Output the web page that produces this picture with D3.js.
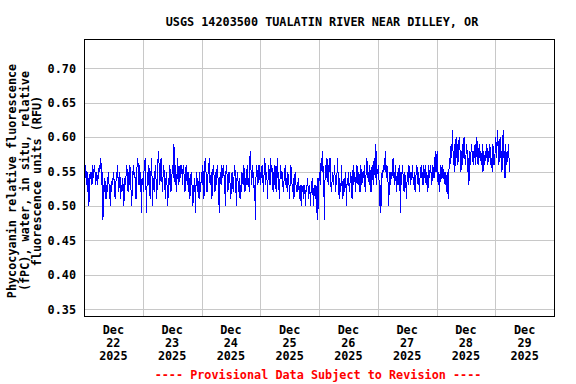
<!DOCTYPE html>
<html>
<head>
<meta charset="utf-8">
<script src="https://cdn.jsdelivr.net/npm/d3@7/dist/d3.min.js"></script>
<style>
  html, body { margin: 0; padding: 0; background: #ffffff; }
  svg { display: block; }
  text { font-family: "DejaVu Sans Mono", "Liberation Mono", monospace; font-weight: bold; font-size: 11.8px; }
</style>
</head>
<body>
<div id="chart"></div>
<script>
// ---- Data: phycocyanin RFU, 15-minute readings, stored in hundredths ----
const title = "USGS 14203500 TUALATIN RIVER NEAR DILLEY, OR";
const yAxisTitle = ["Phycocyanin relative fluorescence", "(fPC), water, in situ, relative", "fluorescence units (RFU)"];
const footer = "---- Provisional Data Subject to Revision ----";
const dayStarts = ["2025-12-22", "2025-12-23", "2025-12-24", "2025-12-25", "2025-12-26", "2025-12-27", "2025-12-28", "2025-12-29"];
const dayLabels = [["Dec", "22", "2025"], ["Dec", "23", "2025"], ["Dec", "24", "2025"], ["Dec", "25", "2025"],
                   ["Dec", "26", "2025"], ["Dec", "27", "2025"], ["Dec", "28", "2025"], ["Dec", "29", "2025"]];
const yTicks = [0.35, 0.40, 0.45, 0.50, 0.55, 0.60, 0.65, 0.70];

const dec22 = [51,55,54,56,53,55,52,54,50,53,55,54, 55,53,56,54,55,56,55,53,54,55,53,54,
               55,56,55,57,56,53,55,48,53,52,54,53, 51,53,52,54,55,53,52,50,53,52,54,53,
               55,54,52,51,53,55,54,56,53,52,55,54, 51,53,52,54,53,50,52,54,53,55,56,54,
               52,55,53,56,54,52,50,53,55,56,54,55, 53,51,55,56,57,54,53,56,52,55,49,54];
const dec23 = [54,52,55,56,57,54,49,53,55,53,56,54, 51,53,57,55,50,53,54,52,55,56,53,51,
               55,57,58,55,53,56,57,55,52,54,56,55, 53,51,54,55,52,50,54,53,56,55,52,53,
               55,56,54,59,55,53,56,52,54,57,55,53, 55,56,54,56,55,53,56,55,54,52,55,56,
               54,53,55,52,54,51,53,55,54,52,50,53, 52,54,49,53,55,52,54,53,51,55,52,53];
const dec24 = [55,53,56,54,51,55,57,56,53,52,54,55, 56,57,53,54,55,51,53,56,55,54,52,55,
               53,55,56,54,52,49,54,55,53,56,55,54, 56,54,53,50,55,56,54,52,53,55,54,53,
               51,54,55,53,52,54,56,55,53,50,54,55, 53,52,54,51,53,52,55,54,53,56,55,52,
               54,53,55,56,53,54,52,57,58,55,53,56, 54,55,52,53,48,54,56,55,53,54,56,55];
const dec25 = [53,55,54,56,55,52,54,57,56,53,55,54, 51,55,56,54,53,57,55,56,54,52,55,53,
               56,54,52,55,57,54,55,51,53,56,55,54, 55,53,52,54,55,56,53,54,52,55,54,53,
               51,54,56,55,53,52,54,51,53,55,54,52, 53,52,54,53,51,53,52,50,53,52,53,51,
               53,52,50,53,52,54,53,51,52,53,50,52, 53,54,52,50,53,52,51,53,49,54,48,52];
const dec26 = [54,55,53,56,57,55,58,54,52,48,55,56, 54,57,55,53,56,55,57,54,52,53,55,54,
               53,56,55,52,54,53,57,55,53,51,54,52, 53,56,52,51,53,54,52,55,53,50,54,53,
               55,53,52,54,55,53,51,54,56,53,55,54, 52,55,56,54,53,55,54,52,56,55,53,54,
               55,54,56,53,52,55,57,56,54,55,53,56, 54,52,55,56,54,53,57,55,54,59,53,55];
const dec27 = [55,56,54,50,53,49,52,55,54,56,55,57, 55,58,54,56,55,53,50,54,55,53,55,54,
               55,57,54,55,53,56,54,52,55,53,54,56, 54,49,55,53,56,55,54,52,55,54,53,51,
               54,55,53,56,54,55,53,55,54,56,53,54, 55,52,54,55,56,54,53,55,52,54,55,56,
               54,55,53,56,55,54,56,53,55,54,52,56, 55,54,56,55,53,54,56,55,54,56,58,55];
const dec28 = [55,58,54,53,55,52,54,56,55,54,56,55, 54,55,53,55,54,52,55,51,54,57,56,58,
               59,57,61,58,56,59,55,58,60,57,59,56, 58,60,59,57,55,58,56,59,57,60,58,56,
               57,59,58,55,57,53,58,56,57,59,58,57, 56,58,57,59,56,58,60,57,56,58,59,57,
               58,56,57,59,55,58,57,56,58,57,59,58, 56,58,57,59,58,56,57,55,59,58,56,57];
const dec29 = [58,60,57,59,61,58,56,59,60,57,58,55, 59,61,57,58,54,59,57,56,58,57,59,55,56];

const dayValues = [dec22, dec23, dec24, dec25, dec26, dec27, dec28, dec29];

// ---- Build records ----
const parseDay = d3.utcParse("%Y-%m-%d");
const data = [];
dayValues.forEach((vals, i) => {
  const start = parseDay(dayStarts[i]);
  vals.forEach((v, j) => {
    data.push({ t: d3.utcMinute.offset(start, j * 15), v: v / 100 });
  });
});

// ---- Layout ----
const W = 576, H = 384;
const plot = { left: 84, right: 554, top: 39, bottom: 316 };

const x = d3.scaleUtc()
  .domain([parseDay("2025-12-22"), parseDay("2025-12-30")])
  .range([plot.left, plot.right]);
const y = d3.scaleLinear()
  .domain([0.3403, 0.7425])
  .range([plot.bottom, plot.top]);

const svg = d3.select("#chart").append("svg")
  .attr("width", W).attr("height", H);

svg.append("rect").attr("width", W).attr("height", H).attr("fill", "#fff");

// Title
svg.append("text")
  .attr("x", 322).attr("y", 26)
  .attr("text-anchor", "middle")
  .attr("fill", "#000")
  .text(title);

// Gridlines
const gridColor = "#c8c8c8";
const gx = svg.append("g");
const dayBounds = d3.utcDay.range(parseDay("2025-12-23"), parseDay("2025-12-30"));
gx.selectAll("line.vg").data(dayBounds).join("line")
  .attr("x1", d => Math.round(x(d)) + 0.5).attr("x2", d => Math.round(x(d)) + 0.5)
  .attr("y1", plot.top).attr("y2", plot.bottom)
  .attr("stroke", gridColor).attr("stroke-width", 1);
gx.selectAll("line.hg").data(yTicks).join("line")
  .attr("x1", plot.left).attr("x2", plot.right)
  .attr("y1", d => Math.round(y(d)) + 0.5).attr("y2", d => Math.round(y(d)) + 0.5)
  .attr("stroke", gridColor).attr("stroke-width", 1);

// Data line
const clipId = "plotclip";
svg.append("clipPath").attr("id", clipId)
  .append("rect").attr("x", plot.left).attr("y", plot.top)
  .attr("width", plot.right - plot.left).attr("height", plot.bottom - plot.top);

const line = d3.line().x(d => x(d.t)).y(d => y(d.v));
svg.append("path")
  .datum(data)
  .attr("clip-path", `url(#${clipId})`)
  .attr("fill", "none")
  .attr("stroke", "#0000ff")
  .attr("stroke-width", 1)
  .attr("shape-rendering", "crispEdges")
  .attr("d", line);

// Frame
svg.append("rect")
  .attr("x", plot.left + 0.5).attr("y", plot.top + 0.5)
  .attr("width", plot.right - plot.left).attr("height", plot.bottom - plot.top)
  .attr("fill", "none").attr("stroke", "#000").attr("stroke-width", 1);

// Y axis labels
const yAxis = d3.axisLeft(y).tickValues(yTicks).tickFormat(d3.format(".2f")).tickSize(0).tickPadding(8);
const yg = svg.append("g").attr("transform", `translate(${plot.left},0)`).call(yAxis);
yg.select(".domain").remove();
yg.attr("font-family", null).attr("font-size", null);
yg.selectAll("text").attr("fill", "#000");

// X axis labels (noon of each day, three lines)
const xg = svg.append("g");
dayStarts.forEach((ds, i) => {
  const noon = d3.utcHour.offset(parseDay(ds), 12);
  const t = xg.append("text")
    .attr("x", x(noon)).attr("y", 334)
    .attr("text-anchor", "middle").attr("fill", "#000");
  dayLabels[i].forEach((s, k) => {
    t.append("tspan").attr("x", x(noon)).attr("y", 334 + k * 13).text(s);
  });
});

// Y axis title
const yt = svg.append("text")
  .attr("transform", "translate(0,181) rotate(-90)")
  .attr("text-anchor", "middle").attr("fill", "#000");
yAxisTitle.forEach((s, k) => {
  yt.append("tspan").attr("x", 0).attr("y", 16 + k * 12.5).text(s);
});

// Footer
svg.append("text")
  .attr("x", 318).attr("y", 379)
  .attr("text-anchor", "middle")
  .attr("fill", "#ff0000")
  .text(footer);
</script>
</body>
</html>
